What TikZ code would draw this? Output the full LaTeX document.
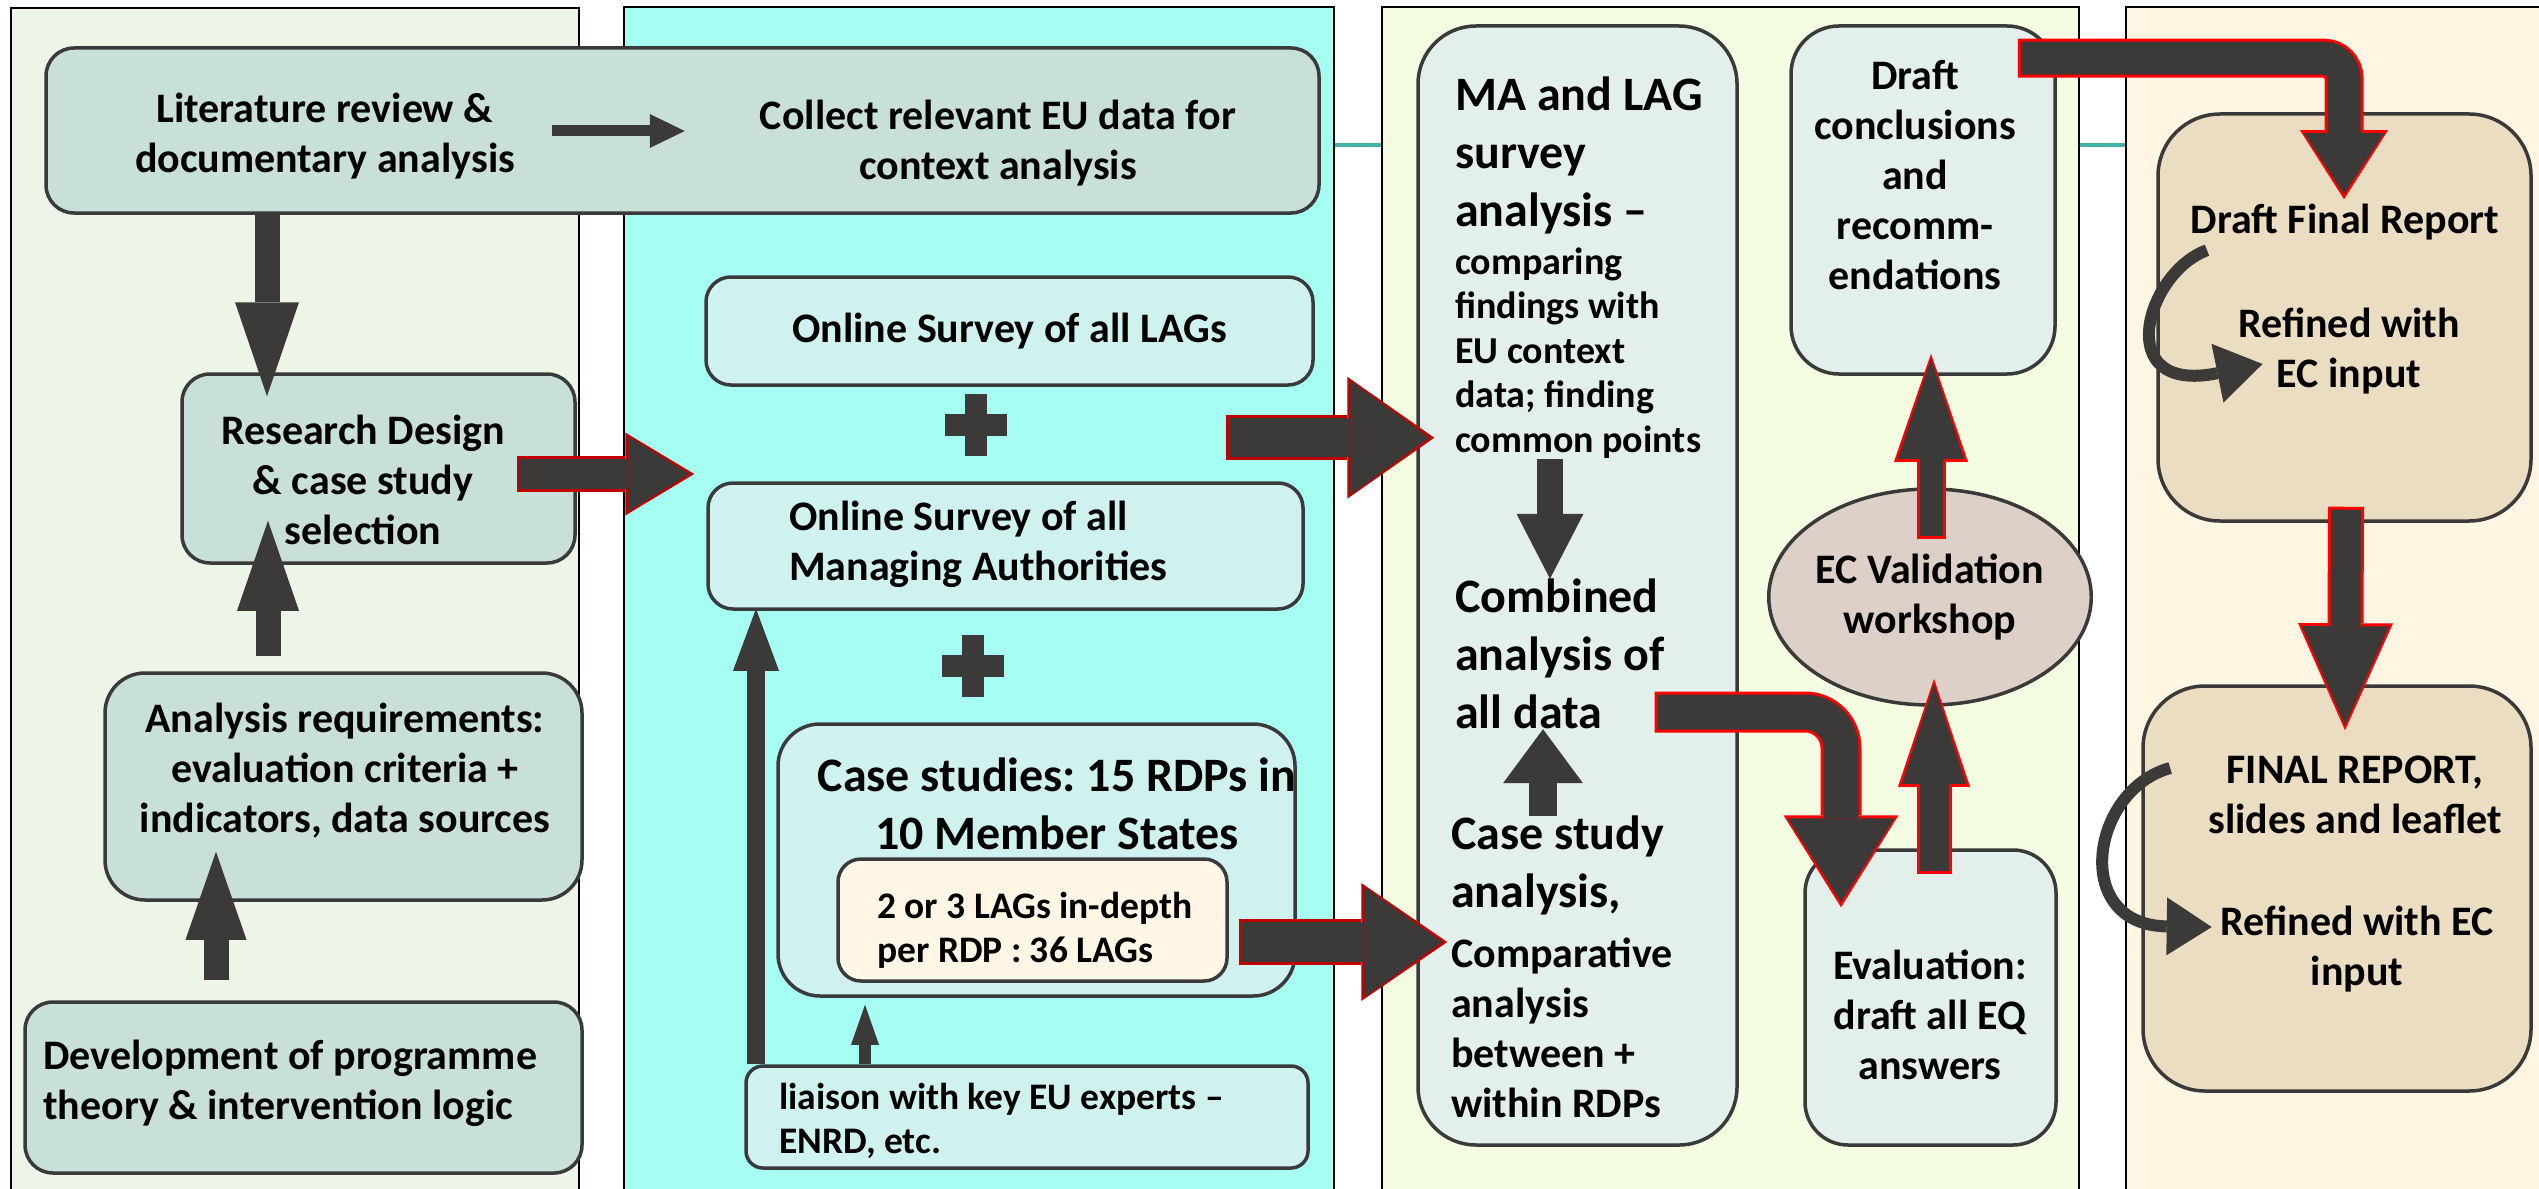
\documentclass[tikz,border=0pt]{standalone}
\usepackage{fontspec}
\setmainfont{Carlito}
\frenchspacing
\usetikzlibrary{arrows.meta,calc,shapes.geometric}

\definecolor{panA}{HTML}{EDF4E8}
\definecolor{panB}{HTML}{A6FEF2}
\definecolor{panC}{HTML}{F4FCE1}
\definecolor{panD}{HTML}{FEF6E2}
\definecolor{boxgreen}{HTML}{C8E0D8}
\definecolor{boxcyan}{HTML}{D0F2EE}
\definecolor{boxpale}{HTML}{E2EFEA}
\definecolor{cream}{HTML}{FFF6E6}
\definecolor{tan}{HTML}{EADDC2}
\definecolor{pinkgray}{HTML}{DCD0C8}
\definecolor{arrowgray}{HTML}{3C3A39}
\definecolor{boxline}{HTML}{3A3A3A}
\definecolor{redA}{HTML}{C00000}
\definecolor{redB}{HTML}{FF0000}
\definecolor{tealline}{HTML}{40B4A8}

\tikzset{
  panel/.style={draw=black, line width=2pt},
  box/.style={draw=boxline, line width=3.5pt, rounded corners=28pt, inner sep=0pt},
  txt/.style={font=\bfseries\fontsize{42}{50}\selectfont, align=center, inner sep=0pt},
  bigtxt/.style={font=\bfseries\fontsize{48}{58}\selectfont},
  smtxt/.style={font=\bfseries\fontsize{37.5}{44}\selectfont},
  plusmark/.style={fill=arrowgray, draw=boxline, line width=1.5pt},
  fat/.style n args={3}{draw=arrowgray, line width=#1,
    arrows={-Triangle[length=#3, width=#2, line width=0pt]}},
  redfat/.code n args={4}{%
    \pgfmathsetlengthmacro\rshaft{#1+6pt}%
    \pgfmathsetlengthmacro\rwidth{#2+8pt}%
    \pgfmathsetlengthmacro\rlength{#3+8pt}%
    \edef\rpre{\noexpand\tikzset{preaction={draw=#4, line width=\rshaft,
      shorten <=-3pt, shorten >=0pt,
      arrows={-Triangle[length=\rlength, width=\rwidth, line width=0pt]}}}}%
    \rpre
    \tikzset{fat={#1}{#2}{#3}, shorten >=5pt}},
  curvy/.style n args={2}{draw=arrowgray, line width=12pt,
    arrows={-Triangle[length=#1, width=#2, line width=0pt]}},
}

\begin{document}
\begin{tikzpicture}[x=1pt, y=-1pt]
\useasboundingbox (0,0) rectangle (2539,1188);

% background columns
\draw[tealline, line width=4pt] (1300,145) -- (2160,145);
\draw[panel, fill=panA] (11,8) rectangle (579,1200);
\draw[panel, fill=panB] (624,7) rectangle (1334,1200);
\draw[panel, fill=panC] (1382,7) rectangle (2079,1200);
\draw[panel, fill=panD] (2126,7) rectangle (2560,1200);

% column 1
\node[box, fill=boxgreen, minimum width=1273pt, minimum height=165pt] (lit) at (682.5,130.5) {};
\node[txt] (litrev) at (325,136) {Literature review \&\\documentary analysis};
\node[txt] (eudata) at (998,143.5) {Collect relevant EU data for\\context analysis};
\node[box, fill=boxgreen, minimum width=393pt, minimum height=189pt] (rd) at (378.5,468.5) {};
\node[txt] (rdt) at (363,479.5) {Research Design\\\& case study\\selection};
\node[box, fill=boxgreen, rounded corners=40pt, minimum width=477pt, minimum height=227pt] (ar) at (343.5,786.5) {};
\node[txt] (art) at (345,771) {Analysis requirements:\\evaluation criteria +\\indicators, data sources};
\node[box, fill=boxgreen, minimum width=557pt, minimum height=171pt] (dev) at (303.5,1087.5) {};
\node[txt, align=left, anchor=west] (devt) at (43,1083.5) {Development of programme\\theory \& intervention logic};

% column 2
\node[box, txt, fill=boxcyan, rounded corners=25pt, minimum width=607pt, minimum height=108pt] (surv) at (1009.5,331) {Online Survey of all LAGs};
\node[box, fill=boxcyan, rounded corners=25pt, minimum width=595pt, minimum height=126pt] (mas) at (1005.5,546) {};
\node[txt, align=left, anchor=west] (mast) at (789,544.5) {Online Survey of all\\Managing Authorities};
\node[box, fill=boxcyan, rounded corners=42pt, minimum width=517pt, minimum height=272pt] (case) at (1036.5,860) {};
\node[txt, bigtxt] (caset) at (1057,804) {Case studies: 15 RDPs in\\10 Member States};
\node[box, fill=cream, rounded corners=23pt, minimum width=389pt, minimum height=122pt] (lags) at (1032.5,920) {};
\node[txt, smtxt, align=left, anchor=west] (lagst) at (877,930) {2 or 3 LAGs in-depth\\per RDP : 36 LAGs};
\node[box, fill=boxcyan, rounded corners=17pt, minimum width=562pt, minimum height=102pt] (liaison) at (1027,1117) {};
\node[txt, smtxt, align=left, anchor=west] (liaisont) at (779,1121) {liaison with key EU experts –\\ENRD, etc.};
\foreach \px/\py in {976/425,973/666}
  \filldraw[plusmark] (\px-10.5,\py-30.5) -- ++(21,0) -- ++(0,20) -- ++(20,0) -- ++(0,21)
    -- ++(-20,0) -- ++(0,20) -- ++(-21,0) -- ++(0,-20) -- ++(-20,0) -- ++(0,-21) -- ++(20,0) -- cycle;

% column 3
\node[box, fill=boxpale, rounded corners=58pt, minimum width=319pt, minimum height=1119pt] (ma) at (1577.5,585.5) {};
\node[txt, bigtxt, align=left, anchor=west] (mat) at (1455,155) {MA and LAG\\survey\\analysis –};
\node[txt, font=\bfseries\fontsize{38}{44.5}\selectfont, align=left, anchor=west] (cmp) at (1455,353) {comparing\\findings with\\EU context\\data; finding\\common points};
\node[txt, bigtxt, align=left, anchor=west] (comb) at (1455,654) {Combined\\analysis of\\all data};
\node[txt, bigtxt, align=left, anchor=west] (cst) at (1451,865.5) {Case study\\analysis,};
\node[txt, align=left, anchor=west] (cmpa) at (1451,1027.5) {Comparative\\analysis\\between +\\within RDPs};
\node[box, fill=boxpale, rounded corners=48pt, minimum width=264pt, minimum height=348pt] (draft) at (1923,200) {};
\node[txt] (draftt) at (1915,175) {Draft\\conclusions\\and\\recomm-\\endations};
\node[ellipse, txt, draw=boxline, line width=3.5pt, fill=pinkgray, minimum width=294pt, minimum height=216pt] (val) at (1930,597) {EC Validation\\workshop};
\node[box, fill=boxpale, rounded corners=43pt, minimum width=251pt, minimum height=295pt] (eval) at (1930.5,997.5) {};
\node[txt] (evalt) at (1930,1014.5) {Evaluation:\\draft all EQ\\answers};

% column 4
\node[box, fill=tan, rounded corners=62pt, minimum width=373pt, minimum height=407pt] (dfr) at (2344.5,317.5) {};
\node[txt] (dfrt) at (2345,222) {Draft Final Report};
\node[txt] (ref1) at (2349,351) {Refined with\\EC input};
\node[box, fill=tan, rounded corners=62pt, minimum width=388pt, minimum height=405pt] (final) at (2337,888.5) {};
\node[txt] (fin) at (2355,795) {FINAL REPORT,\\slides and leaflet};
\node[txt] (ref2) at (2357,949) {Refined with EC\\input};

% dark arrows
\draw[fat={11pt}{34pt}{35pt}, shorten <=37pt, shorten >=75pt] ($(litrev.east)+(0,-5)$) -- ($(litrev.east -| eudata.west)+(0,-5)$);
\draw[fat={25pt}{64pt}{94pt}, shorten >=-24pt] (lit.south -| 267,0) -- (rd.north -| 267,0);
\draw[fat={25pt}{62pt}{90pt}, shorten <=15pt, shorten >=-44pt] (ar.north -| 268,0) -- (rd.south -| 268,0);
\draw[fat={25pt}{61pt}{88pt}, shorten <=20pt, shorten >=-50pt] (dev.north -| 216,0) -- (ar.south -| 216,0);
\draw[fat={18pt}{46pt}{62pt}, shorten >=-2pt] (liaison.north -| 756,0) -- (mas.south -| 756,0);
\draw[fat={12pt}{28pt}{40pt}, shorten >=7pt] (liaison.north -| 865,0) -- (case.south -| 865,0);
\draw[fat={26pt}{67pt}{65pt}] (cmp.south -| 1550,0) -- (comb.north -| 1550,0);
\draw[fat={28pt}{80pt}{54pt}] (cst.north -| 1543,0) -- (comb.south -| 1543,0);

% red-edged arrows
\draw[redfat={30pt}{75pt}{61pt}{redA}] ($(rd.east)+(-57,5.5)$) -- ($(rd.east -| mas.west)+(-12,5.5)$);
\draw[redfat={39pt}{114pt}{79pt}{redA}] ($(surv.south east)+(-86,51)$) -- ($(surv.south east -| ma.west)+(18,51)$);
\draw[redfat={40pt}{110pt}{78pt}{redA}] ($(lags.east)+(13,22)$) -- ($(lags.east -| ma.west)+(31,22)$);
\draw[redfat={35pt}{107pt}{84pt}{redB}, rounded corners=36pt] ($(comb.east)+(-7,58)$) -| ($(eval.north)+(-89.5,59)$);
\draw[redfat={29pt}{64pt}{100pt}{redB}] ($(eval.north)+(3.5,23)$) -- ($(val.south)+(4,-28)$);
\draw[redfat={23pt}{66pt}{100pt}{redB}] ($(val.north)+(1,49)$) -- ($(draft.south)+(8,-22)$);
\draw[redfat={33pt}{80pt}{61pt}{redB}, rounded corners=20pt] ($(draft.north east)+(-36,34)$) -| ($(dfr.north)+(-0.5,87)$);
\draw[redfat={30pt}{87pt}{99pt}{redB}] ($(dfr.south)+(1.5,-13)$) -- ($(final.north)+(8,46)$);

% refine loops
\draw[curvy={46pt}{60pt}] ($(dfrt.south west)+(16.5,10)$) .. controls +(-61,22) and +(-152,31) .. ($(ref1.west)+(24.5,13)$);
\draw[curvy={45pt}{58pt}] ($(fin.west)+(-38,-27)$) .. controls +(-80,22) and +(-141,-2) .. ($(ref2.west)+(-8.5,-22)$);
\end{tikzpicture}
\end{document}
